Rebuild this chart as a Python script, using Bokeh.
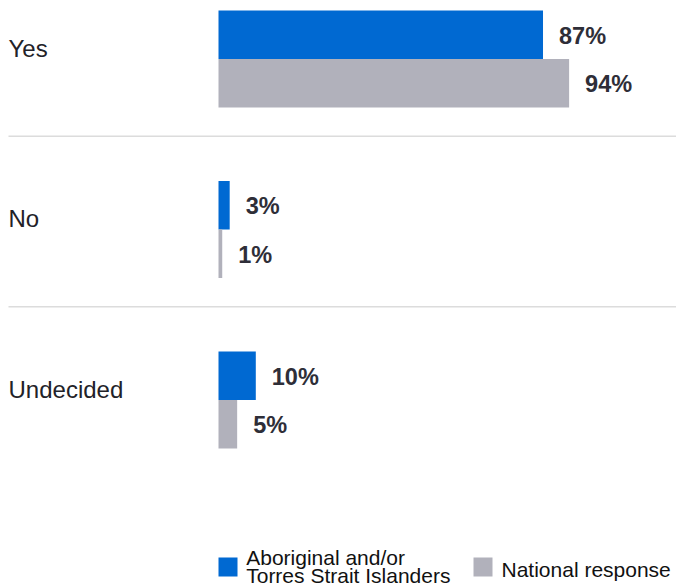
from bokeh.plotting import figure
from bokeh.models import Range1d
from bokeh.core.properties import value
from bokeh.embed import file_html
from bokeh.resources import INLINE

# ---- data ----
categories = ["Yes", "No", "Undecided"]
aboriginal = [87, 3, 10]
national = [94, 1, 5]
series_labels = [["Aboriginal and/or", "Torres Strait Islanders"], ["National response"]]
series_colors = ["#0069d2", "#b1b1bb"]

# ---- layout helpers (canvas pixels) ----
W, H = 676, 587
X0 = 218.0          # canvas px where 0% sits
PX_PER_PCT = 3.73
Y0 = 58.5           # canvas px of first category centre
PX_PER_CAT = 170.5
BAR_H = 48.5 / PX_PER_CAT

def px_x(px):
    return (px - X0) / PX_PER_PCT

def px_y(py):
    return (py - Y0) / PX_PER_CAT

x_range = Range1d(px_x(0), px_x(W))
y_range = Range1d(px_y(H), px_y(0))

p = figure(width=W, height=H, x_range=x_range, y_range=y_range,
           output_backend="svg", toolbar_location=None, min_border=0,
           x_axis_location=None, y_axis_location=None,
           outline_line_color=None, background_fill_color="white",
           border_fill_color="white")
p.grid.visible = False

FONT = value("Liberation Sans")
idx = list(range(len(categories)))

# separators
sep_y = [i + 0.453 for i in idx[:-1]]
p.segment(x0=[px_x(8)] * len(sep_y), x1=[x_range.end] * len(sep_y),
          y0=sep_y, y1=sep_y, line_color="#dcdcdc", line_width=1.5)

# bars
y_blue = [i - BAR_H / 2 for i in idx]
y_gray = [i + BAR_H / 2 for i in idx]
p.hbar(y=y_blue, left=0, right=aboriginal, height=BAR_H,
       fill_color=series_colors[0], line_color=None)
p.hbar(y=y_gray, left=0, right=national, height=BAR_H,
       fill_color=series_colors[1], line_color=None)

# value labels
for ys, vals in ((y_blue, aboriginal), (y_gray, national)):
    p.text(x=vals, y=ys, text=[f"{v}%" for v in vals], x_offset=16, y_offset=1,
           text_align="left", text_baseline="middle", text_font=FONT,
           text_font_style="bold", text_font_size="23.5px", text_color="#2e2e38")

# category labels
p.text(x=[x_range.start] * len(categories), y=idx, text=categories,
       x_offset=8, y_offset=-11, text_align="left", text_baseline="middle",
       text_font=FONT, text_font_size="24px", text_color="#222228")

# legend (custom)
p.rect(x=[px_x(227.5), px_x(482.5)], y=[px_y(566.5)] * 2, width=19, height=19,
       width_units="screen", height_units="screen",
       fill_color=series_colors, line_color=None)
p.text(x=[px_x(245.7)] * 2, y=[px_y(556.5), px_y(575.3)], text=series_labels[0],
       text_align="left", text_baseline="middle", text_font=FONT,
       text_font_size="21px", text_color="#111111")
p.text(x=[px_x(501)], y=[px_y(568.5)], text=series_labels[1],
       text_align="left", text_baseline="middle", text_font=FONT,
       text_font_size="21px", text_color="#111111")

open("out.html", "w").write(file_html(p, INLINE))
